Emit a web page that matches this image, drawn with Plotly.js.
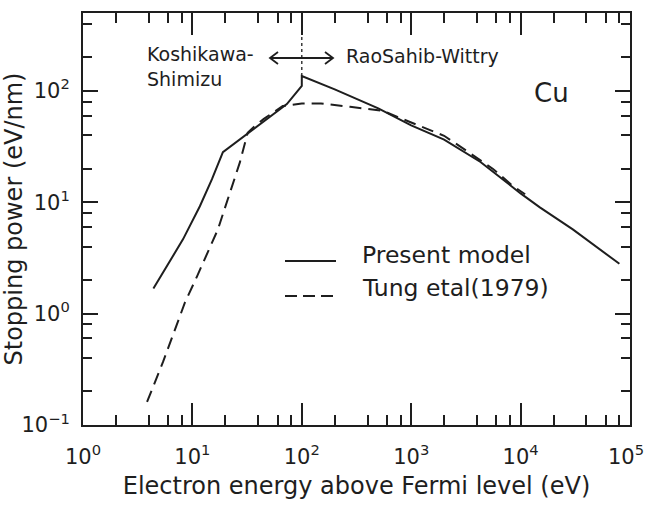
<!DOCTYPE html>
<html>
<head>
<meta charset="utf-8">
<script src="https://cdn.plot.ly/plotly-3.0.1.min.js"></script>
<style>html,body{margin:0;padding:0;background:#fff;}#chart{width:645px;height:510px;}</style>
</head>
<body>
<div id="chart"></div>
<script>
// Present model (solid)
var presentX = [4.4, 5.4, 8.2, 11.7, 15.1, 19, 36, 73, 100, 100, 200, 500, 1000, 2000, 4300, 10000, 15000, 30000, 80000];
var presentY = [1.68, 2.34, 4.64, 9.2, 16.1, 28.2, 45.5, 76, 111, 136, 103, 69.5, 49, 36.5, 23, 12, 9.0, 5.7, 2.8];
// Tung et al (1979) (dashed)
var tungX = [3.85, 5.4, 8.55, 11, 17.1, 22, 27.2, 32, 36, 45, 67, 100, 150, 276, 552, 1000, 2000, 3230, 5600, 8500, 11000];
var tungY = [0.161, 0.37, 1.26, 2.15, 5.7, 12, 22.9, 42, 47, 56, 73, 77, 77, 72, 66, 52, 39.5, 28.8, 19.9, 14, 11.8];
// boundary between the two models
var boundaryX = [100, 100];
var boundaryY = [136, 500];

var xTickVals = [1, 10, 100, 1000, 10000, 100000];
var xTickText = ['10<sup>0</sup>', '10<sup>1</sup>', '10<sup>2</sup>', '10<sup>3</sup>', '10<sup>4</sup>', ''];
var xLastLabel = '10<sup>5</sup>';
var yTickVals = [0.1, 1, 10, 100];
var yTickText = ['10<sup>\u22121</sup>', '10<sup>0</sup>', '10<sup>1</sup>', '10<sup>2</sup>'];
var minorDigits = [2, 4, 6, 8];
var seriesNames = ['Present model', 'Tung etal(1979)'];

function minorVals(d0, d1) {
  var v = [];
  for (var d = d0; d <= d1; d++) minorDigits.forEach(function (m) { v.push(m * Math.pow(10, d)); });
  return v;
}

var INK = '#1e1e1e';
var CLEAR = 'rgba(0,0,0,0)';
var FONT = 'DejaVu Sans, Liberation Sans, sans-serif';
var L = 83, T = 13, W = 547, H = 412;
function px(x) { return (x - L) / W; }
function py(y) { return 1 - (y - T) / H; }
var X_RANGE = [0, 5];
var Y_RANGE = [-1, Math.log10(500)];

var traces = [
  { x: presentX, y: presentY, mode: 'lines', name: seriesNames[0], line: { color: INK, width: 2 }, showlegend: false },
  { x: tungX, y: tungY, mode: 'lines', name: seriesNames[1], line: { color: INK, width: 2, dash: '12px,7px' }, showlegend: false },
  { x: boundaryX, y: boundaryY, mode: 'lines', name: 'boundary', line: { color: INK, width: 1.3, dash: '3px,3px' }, showlegend: false },
  // carriers for the tick-mark axes
  { x: [], y: [], xaxis: 'x2', yaxis: 'y2', mode: 'lines', showlegend: false },
  { x: [], y: [], xaxis: 'x3', yaxis: 'y3', mode: 'lines', showlegend: false }
];

var shapes = [
  // legend samples
  { type: 'line', xref: 'paper', yref: 'paper', x0: px(285), x1: px(336), y0: py(261), y1: py(261), line: { color: INK, width: 2 } },
  { type: 'line', xref: 'paper', yref: 'paper', x0: px(285), x1: px(336), y0: py(296), y1: py(296), line: { color: INK, width: 2, dash: '12px,6px' } },
  // double arrow
  { type: 'line', xref: 'paper', yref: 'paper', x0: px(270), x1: px(333), y0: py(58), y1: py(58), line: { color: INK, width: 1.8 } },
  { type: 'path', xref: 'paper', yref: 'paper', path: 'M ' + px(278) + ' ' + py(52) + ' L ' + px(270) + ' ' + py(58) + ' L ' + px(278) + ' ' + py(64), line: { color: INK, width: 1.8 } },
  { type: 'path', xref: 'paper', yref: 'paper', path: 'M ' + px(325) + ' ' + py(52) + ' L ' + px(333) + ' ' + py(58) + ' L ' + px(325) + ' ' + py(64), line: { color: INK, width: 1.8 } }
];

var annFont = { family: FONT, size: 19, color: INK };
var annotations = [
  { xref: 'paper', yref: 'paper', x: px(145), y: py(67), text: 'Koshikawa-<br>Shimizu', align: 'left', showarrow: false, xanchor: 'left', yanchor: 'middle', font: annFont },
  { xref: 'paper', yref: 'paper', x: px(344), y: py(56), text: 'RaoSahib-Wittry', showarrow: false, xanchor: 'left', yanchor: 'middle', font: annFont },
  { xref: 'paper', yref: 'paper', x: px(551), y: py(93), text: 'Cu', showarrow: false, xanchor: 'center', yanchor: 'middle', font: { family: FONT, size: 26, color: INK } },
  { xref: 'paper', yref: 'paper', x: px(360), y: py(255), text: seriesNames[0], showarrow: false, xanchor: 'left', yanchor: 'middle', font: { family: FONT, size: 23.5, color: INK } },
  { xref: 'paper', yref: 'paper', x: px(360), y: py(288), text: seriesNames[1], showarrow: false, xanchor: 'left', yanchor: 'middle', font: { family: FONT, size: 23.5, color: INK } },
  // last x tick label, kept inside the page
  { xref: 'paper', yref: 'paper', x: 1, y: py(455), text: xLastLabel, showarrow: false, xanchor: 'center', yanchor: 'middle', xshift: -4, font: { family: FONT, size: 21, color: INK } }
];

function tickAxis(range, vals, len, extra) {
  return Object.assign({
    type: 'log', range: range, tickmode: 'array', tickvals: vals, ticks: 'inside', ticklen: len, tickwidth: 2, tickcolor: INK,
    showticklabels: false, showgrid: false, zeroline: false, showline: true, linecolor: INK, linewidth: 2, mirror: 'ticks'
  }, extra);
}

var layout = {
  width: 645, height: 510,
  margin: { l: L, r: 645 - L - W, t: T, b: 510 - T - H },
  showlegend: false,
  // label axes: transparent outside ticks set the gap between axis and labels
  xaxis: {
    type: 'log', range: X_RANGE, tickmode: 'array', tickvals: xTickVals, ticktext: xTickText,
    ticks: 'outside', ticklen: 12, tickcolor: CLEAR, showline: true, linecolor: INK, linewidth: 2, mirror: true,
    showgrid: false, zeroline: false, tickfont: { family: FONT, size: 21, color: INK },
    title: { text: 'Electron energy above Fermi level (eV)', font: { family: FONT, size: 24, color: INK }, standoff: 9 }
  },
  yaxis: {
    type: 'log', range: Y_RANGE, tickmode: 'array', tickvals: yTickVals, ticktext: yTickText,
    ticks: 'outside', ticklen: 7, tickcolor: CLEAR, showline: true, linecolor: INK, linewidth: 2, mirror: true,
    showgrid: false, zeroline: false, tickfont: { family: FONT, size: 21, color: INK },
    title: { text: 'Stopping power (eV/nm)', font: { family: FONT, size: 24, color: INK }, standoff: 2 }
  },
  // major tick marks
  xaxis2: tickAxis(X_RANGE, xTickVals, 22, { overlaying: 'x', anchor: 'y2' }),
  yaxis2: tickAxis(Y_RANGE, yTickVals, 15, { overlaying: 'y', anchor: 'x2' }),
  // minor tick marks
  xaxis3: tickAxis(X_RANGE, minorVals(0, 4), 10, { overlaying: 'x', anchor: 'y3' }),
  yaxis3: tickAxis(Y_RANGE, minorVals(-1, 2), 9, { overlaying: 'y', anchor: 'x3' }),
  shapes: shapes,
  annotations: annotations
};

Plotly.newPlot('chart', traces, layout, { displayModeBar: false, staticPlot: true });
</script>
</body>
</html>
